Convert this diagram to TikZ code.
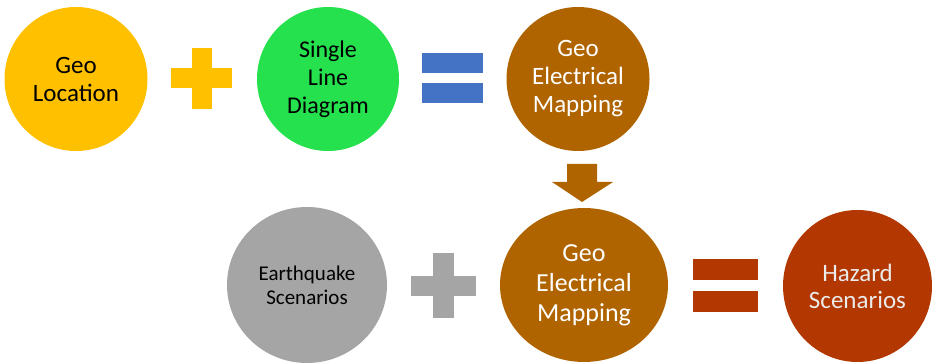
\documentclass[tikz,border=0pt]{standalone}
\usepackage{fontspec}
\setmainfont{Carlito}
\usepackage{tikz}
\usetikzlibrary{shapes.geometric}
\definecolor{gold}{HTML}{FFC000}
\definecolor{leaf}{HTML}{24E14D}
\definecolor{steel}{HTML}{4472C4}
\definecolor{umber}{HTML}{AF6400}
\definecolor{ash}{HTML}{A5A5A5}
\definecolor{rust}{HTML}{B33700}

\begin{document}
\begin{tikzpicture}[x=1pt,y=1pt,yscale=-1,xscale=1,
  bubble/.style={ellipse,inner sep=0pt,align=center,font=\fontsize{25}{28}\selectfont}]
\useasboundingbox (0,0) rectangle (932,363);

%Shape: Circle
\node (geoloc) [bubble,fill=gold,minimum width=143,minimum height=144] at (76,79) {Geo\\Location};
%Shape: Circle
\node (sld) [bubble,fill=leaf,minimum width=142,minimum height=144,font=\fontsize{24}{28}\selectfont] at (328,79) {Single\\Line\\Diagram};
%Shape: Circle
\node (gemtop) [bubble,fill=umber,text=white,minimum width=143,minimum height=144] at (578,79) {Geo\\Electrical\\Mapping};
%Shape: Circle
\node (quake) [bubble,fill=ash,minimum width=160,minimum height=156,font=\fontsize{21}{24}\selectfont] at (307,285) {Earthquake\\Scenarios};
%Shape: Circle
\node (gembot) [bubble,fill=umber,text=white,minimum width=168,minimum height=154,font=\fontsize{26}{30}\selectfont] at (584,285) {Geo\\Electrical\\Mapping};
%Shape: Circle
\node (hazard) [bubble,fill=rust,text=white!92!black,minimum width=149,minimum height=152,font=\fontsize{25}{27}\selectfont] at (857.5,286) {Hazard\\Scenarios};

%Shape: Plus
\fill [gold] (171,68) rectangle (232,88) ;
\fill [gold] (192,48) rectangle (212,109) ;
%Shape: Equal
\fill [steel] (422,53) rectangle (483,73) ;
\fill [steel] (422,83) rectangle (483,103) ;
%Shape: Down Arrow
\fill [umber] (567,164) -- (597,164) -- (597,182) -- (613,182) -- (582,202) -- (552,182) -- (567,182) -- cycle ;
%Shape: Plus
\fill [ash] (411,276) rectangle (476,296) ;
\fill [ash] (433,253) rectangle (454,318) ;
%Shape: Equal
\fill [rust] (693,259) rectangle (758,280) ;
\fill [rust] (693,291) rectangle (758,312) ;
\end{tikzpicture}
\end{document}
